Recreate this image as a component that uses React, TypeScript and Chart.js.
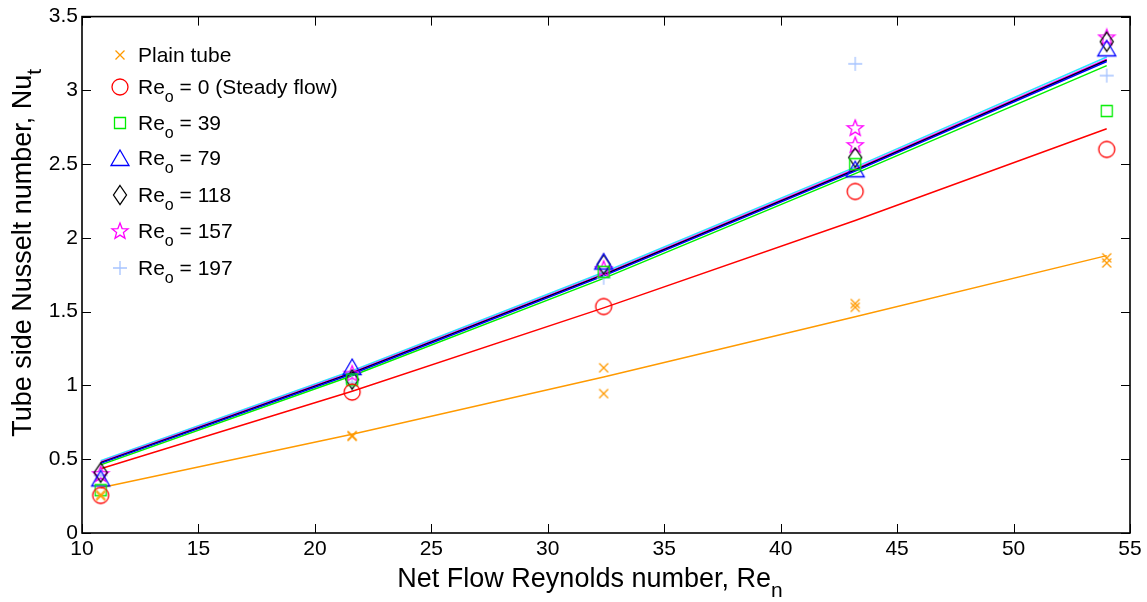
import React, { useEffect, useRef } from 'react';
import { Chart, registerables } from 'chart.js';

Chart.register(...registerables);

// ---------- data ----------
const xValues = [10.8, 21.6, 32.4, 43.2, 54];
const xTickLabels = ['10', '15', '20', '25', '30', '35', '40', '45', '50', '55'];
const yTickLabels = ['0', '0.5', '1', '1.5', '2', '2.5', '3', '3.5'];

const plainTubeRun1 = [0.25, 0.66, 1.12, 1.555, 1.865];
const plainTubeRun2 = [0.26, 0.655, 0.945, 1.53, 1.83];
const reo0 = [0.255, 0.955, 1.535, 2.315, 2.6];
const reo39 = [0.29, 1.04, 1.77, 2.5, 2.86];
const reo79 = [0.37, 1.125, 1.84, 2.465, 3.285];
const reo118 = [0.41, 1.04, 1.82, 2.545, 3.33];
const reo157 = [0.4, 1.08, 1.79, 2.745, 3.36];
const reo157Repeat = [null, null, null, 2.63, null];
const reo197 = [0.39, 1.02, 1.73, 3.18, 3.1];

// fitted trend lines, read at the same x positions
const fitPlain = [0.307, 0.67, 1.057, 1.465, 1.88];
const fitReo0 = [0.436, 0.961, 1.526, 2.118, 2.74];
const fitReo39 = [0.462, 1.066, 1.726, 2.436, 3.168];
const fitReo79 = [0.472, 1.078, 1.743, 2.453, 3.196];
const fitReo118 = [0.477, 1.085, 1.75, 2.46, 3.204];
const fitReo157 = [0.482, 1.09, 1.756, 2.467, 3.211];
const fitReo197 = [0.49, 1.1, 1.767, 2.48, 3.226];

const legendLabels = [
  { main: 'Plain tube', sub: '', rest: '' },
  { main: 'Re', sub: 'o', rest: ' = 0 (Steady flow)' },
  { main: 'Re', sub: 'o', rest: ' = 39' },
  { main: 'Re', sub: 'o', rest: ' = 79' },
  { main: 'Re', sub: 'o', rest: ' = 118' },
  { main: 'Re', sub: 'o', rest: ' = 157' },
  { main: 'Re', sub: 'o', rest: ' = 197' },
];

const COLORS = {
  plain: '#ff9a00',
  red: '#ff0000',
  green: '#00ee00',
  blue: '#0000ff',
  black: '#000000',
  magenta: '#ff00ff',
  plus: '#a6c4ff',
  cyan: '#30e0ff',
};

const FONT = '"Liberation Sans", Arial, sans-serif';

type Kind = 'x' | 'circle' | 'square' | 'triangle' | 'diamond' | 'star' | 'plus';

function makeMarker(kind: Kind, color: string): HTMLCanvasElement {
  const c = document.createElement('canvas');
  const sizes: Record<Kind, [number, number]> = {
    x: [14, 14],
    circle: [20, 20],
    square: [14, 14],
    triangle: [22, 20],
    diamond: [16, 22],
    star: [20, 20],
    plus: [16, 16],
  };
  const [w, h] = sizes[kind];
  c.width = w;
  c.height = h;
  const ctx = c.getContext('2d')!;
  ctx.strokeStyle = color;
  ctx.lineWidth = 1.3;
  ctx.beginPath();
  switch (kind) {
    case 'x':
      ctx.moveTo(2.5, 2.5); ctx.lineTo(11.5, 11.5);
      ctx.moveTo(11.5, 2.5); ctx.lineTo(2.5, 11.5);
      break;
    case 'circle':
      ctx.arc(10, 10, 8, 0, Math.PI * 2);
      break;
    case 'square':
      ctx.rect(1.5, 1.5, 11, 11);
      break;
    case 'triangle':
      ctx.moveTo(11, 2); ctx.lineTo(20, 17.5); ctx.lineTo(2, 17.5); ctx.closePath();
      break;
    case 'diamond':
      ctx.moveTo(8, 1.5); ctx.lineTo(14.5, 11); ctx.lineTo(8, 20.5); ctx.lineTo(1.5, 11); ctx.closePath();
      break;
    case 'star': {
      const cx = 10, cy = 10.5, R = 8.5, r = 3.6;
      for (let i = 0; i < 10; i++) {
        const rad = i % 2 === 0 ? R : r;
        const a = -Math.PI / 2 + (i * Math.PI) / 5;
        const px = cx + rad * Math.cos(a);
        const py = cy + rad * Math.sin(a);
        if (i === 0) ctx.moveTo(px, py); else ctx.lineTo(px, py);
      }
      ctx.closePath();
      break;
    }
    case 'plus':
      ctx.moveTo(8, 1); ctx.lineTo(8, 15);
      ctx.moveTo(1, 8); ctx.lineTo(15, 8);
      break;
  }
  ctx.stroke();
  return c;
}

function pts(ys: (number | null)[]) {
  const out: { x: number; y: number }[] = [];
  ys.forEach((y, i) => {
    if (y !== null) out.push({ x: xValues[i], y });
  });
  return out;
}

function drawRich(
  ctx: CanvasRenderingContext2D,
  main: string,
  sub: string,
  rest: string,
  x: number,
  y: number,
  size: number,
  align: 'left' | 'center'
) {
  const mainFont = `${size}px ${FONT}`;
  const subFont = `${Math.round(size * 0.78)}px ${FONT}`;
  ctx.font = mainFont;
  const w1 = ctx.measureText(main).width;
  const w3 = ctx.measureText(rest).width;
  ctx.font = subFont;
  const w2 = sub ? ctx.measureText(sub).width : 0;
  const total = w1 + w2 + w3;
  let sx = align === 'center' ? x - total / 2 : x;
  ctx.textAlign = 'left';
  ctx.textBaseline = 'alphabetic';
  ctx.fillStyle = '#000';
  ctx.font = mainFont;
  ctx.fillText(main, sx, y);
  sx += w1;
  if (sub) {
    ctx.font = subFont;
    ctx.fillText(sub, sx, y + size * 0.36);
    sx += w2;
  }
  ctx.font = mainFont;
  ctx.fillText(rest, sx, y);
}

export default function App() {
  const ref = useRef<HTMLCanvasElement | null>(null);

  useEffect(() => {
    document.body.style.margin = '0';
    const canvas = ref.current!;

    const mk = {
      x: makeMarker('x', COLORS.plain),
      circle: makeMarker('circle', COLORS.red),
      square: makeMarker('square', COLORS.green),
      triangle: makeMarker('triangle', COLORS.blue),
      diamond: makeMarker('diamond', COLORS.black),
      star: makeMarker('star', COLORS.magenta),
      plus: makeMarker('plus', COLORS.plus),
    };
    const legendMarkers = [mk.x, mk.circle, mk.square, mk.triangle, mk.diamond, mk.star, mk.plus];

    const lineDs = (data: number[], color: string) => ({
      data: pts(data),
      showLine: true,
      borderColor: color,
      borderWidth: 1.5,
      pointRadius: 0,
      fill: false,
    });
    const markDs = (data: (number | null)[], style: HTMLCanvasElement) => ({
      data: pts(data),
      showLine: false,
      pointStyle: style,
      pointRadius: 6,
      borderColor: 'transparent',
      backgroundColor: 'transparent',
    });

    const boxPlugin = {
      id: 'boxTicks',
      afterDraw(chart: any) {
        const { ctx, chartArea } = chart;
        const { left, right, top, bottom } = chartArea;
        const xs = chart.scales.x;
        const ys = chart.scales.y;
        ctx.save();
        ctx.strokeStyle = '#000';
        ctx.lineWidth = 1;
        const tl = 9;
        ctx.beginPath();
        xs.ticks.forEach((t: any) => {
          const px = Math.round(xs.getPixelForValue(t.value)) + 0.5;
          ctx.moveTo(px, bottom); ctx.lineTo(px, bottom - tl);
          ctx.moveTo(px, top); ctx.lineTo(px, top + tl);
        });
        ys.ticks.forEach((t: any) => {
          const py = Math.round(ys.getPixelForValue(t.value)) + 0.5;
          ctx.moveTo(left, py); ctx.lineTo(left + tl, py);
          ctx.moveTo(right, py); ctx.lineTo(right - tl, py);
        });
        ctx.stroke();
        ctx.lineWidth = 1.6;
        ctx.strokeRect(left, top, right - left, bottom - top);

        // legend
        const lx = 120;
        const rowYs = [55, 87, 123, 158, 195, 231, 268];
        legendLabels.forEach((lab, i) => {
          const m = legendMarkers[i];
          ctx.drawImage(m, lx - m.width / 2, rowYs[i] - m.height / 2);
          drawRich(ctx, lab.main, lab.sub, lab.rest, 138, rowYs[i] + 7, 21, 'left');
        });

        // axis titles
        drawRich(ctx, 'Net Flow Reynolds number, Re', 'n', '', (left + right) / 2 - 16, 587, 27, 'center');
        ctx.save();
        ctx.translate(31, (top + bottom) / 2 - 22);
        ctx.rotate(-Math.PI / 2);
        drawRich(ctx, 'Tube side Nusselt number, Nu', 't', '', 0, 0, 27, 'center');
        ctx.restore();
        ctx.restore();
      },
    };

    const chart = new Chart(canvas, {
      type: 'scatter',
      data: {
        datasets: [
          markDs(plainTubeRun1, mk.x),
          markDs(plainTubeRun2, mk.x),
          markDs(reo0, mk.circle),
          markDs(reo39, mk.square),
          markDs(reo79, mk.triangle),
          markDs(reo118, mk.diamond),
          markDs(reo157, mk.star),
          markDs(reo157Repeat, mk.star),
          markDs(reo197, mk.plus),
          lineDs(fitPlain, COLORS.plain),
          lineDs(fitReo0, COLORS.red),
          lineDs(fitReo39, COLORS.green),
          lineDs(fitReo79, COLORS.blue),
          lineDs(fitReo118, COLORS.black),
          lineDs(fitReo157, COLORS.magenta),
          lineDs(fitReo197, COLORS.cyan),
        ] as any,
      },
      options: {
        responsive: false,
        animation: false,
        devicePixelRatio: 1,
        layout: { padding: { top: 16, right: 17, left: 0, bottom: 0 } },
        plugins: {
          legend: { display: false },
          tooltip: { enabled: false },
          title: { display: false },
        },
        elements: { line: { tension: 0 } },
        scales: {
          x: {
            type: 'linear',
            min: 10,
            max: 55,
            afterFit(scale: any) { scale.height = 69; },
            afterBuildTicks(scale: any) {
              scale.ticks = xTickLabels.map((l) => ({ value: Number(l) }));
            },
            ticks: {
              callback: (_v: any, i: number) => xTickLabels[i],
              font: { family: FONT, size: 21 },
              color: '#000',
              padding: 4,
              maxRotation: 0,
              autoSkip: false,
            },
            grid: { display: true, drawOnChartArea: false, drawTicks: false, color: 'transparent' },
            border: { display: false },
          },
          y: {
            type: 'linear',
            min: 0,
            max: 3.5,
            afterFit(scale: any) { scale.width = 82; },
            afterBuildTicks(scale: any) {
              scale.ticks = yTickLabels.map((l) => ({ value: Number(l) }));
            },
            ticks: {
              callback: (_v: any, i: number) => yTickLabels[i],
              font: { family: FONT, size: 21 },
              color: '#000',
              padding: 4,
              autoSkip: false,
            },
            grid: { display: true, drawOnChartArea: false, drawTicks: false, color: 'transparent' },
            border: { display: false },
          },
        },
      } as any,
      plugins: [boxPlugin],
    });
    return () => chart.destroy();
  }, []);

  return (
    <div style={{ width: 1147, height: 602, background: '#fff' }}>
      <canvas ref={ref} width={1147} height={602} style={{ display: 'block', width: 1147, height: 602 }} />
    </div>
  );
}
